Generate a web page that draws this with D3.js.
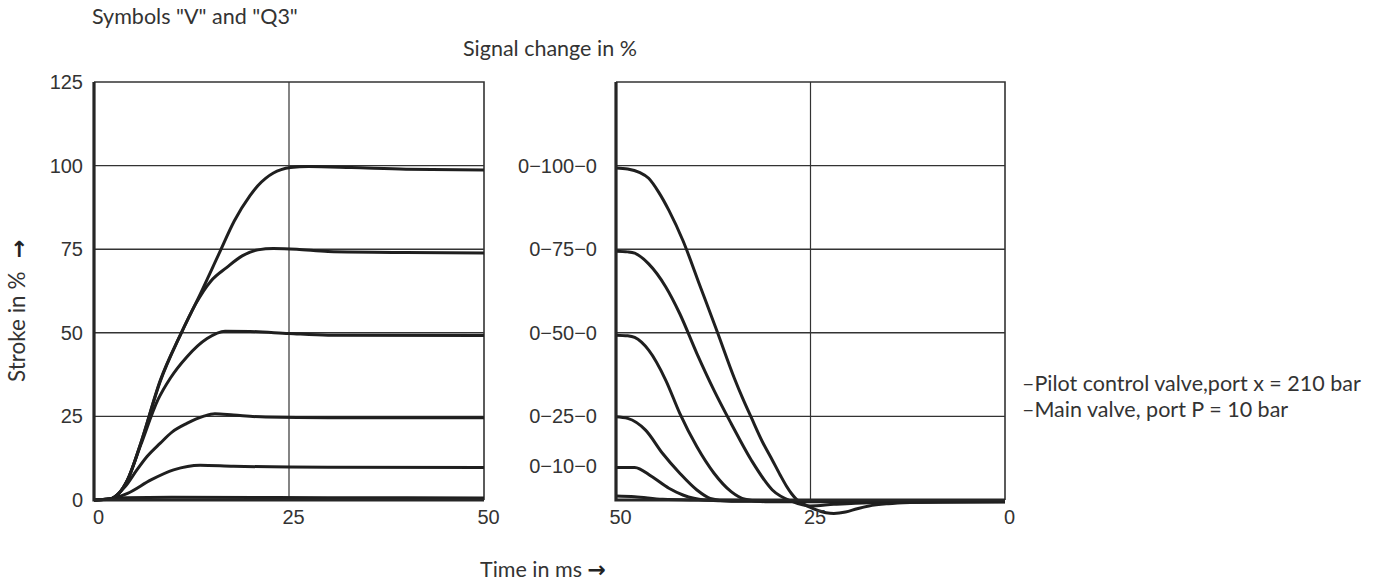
<!DOCTYPE html>
<html>
<head>
  <meta charset="utf-8">
  <title>Stroke vs time</title>
  <style>
    body { margin: 0; background: #fff; }
    .lbl { font-family: Lato, "Open Sans", sans-serif; font-size: 21.5px; fill: #333; }
    .arrow { font-family: "DejaVu Sans", sans-serif; font-weight: bold; fill: #222; }
    .tick text { font-family: "Liberation Sans", Arial, sans-serif; font-size: 20px; fill: #333; }
  </style>
</head>
<body>
  <svg id="chart"></svg>

  <script src="https://cdnjs.cloudflare.com/ajax/libs/d3/7.8.5/d3.min.js"></script>
  <script>
    // tick values / labels
    const strokeTicks = [0, 25, 50, 75, 100, 125];
    const gridValues = [25, 50, 75, 100];
    const timeTicks = [0, 25, 50];
    const signalTicks = [10, 25, 50, 75, 100];
    const signalLabels = ["0\u221210\u22120", "0\u221225\u22120", "0\u221250\u22120", "0\u221275\u22120", "0\u2212100\u22120"];

    // step up: [time ms, stroke %]
    const rise0 = [[0,0],[2,0.2],[4,0.7],[10,0.8],[30,0.7],[50,0.6]];
    const rise10 = [[0,0],[2,0.3],[4.3,2],[7.3,6],[10.2,9],[13.6,10.4],[17.9,10.1],[30,9.8],[50,9.75]];
    const rise25 = [[0,0],[2,0.3],[4,4],[5.5,9],[6.8,13],[8.5,17],[10,20.3],[11.9,22.9],[14,25],[15.5,25.8],[17.9,25.4],[22,24.8],[30,24.6],[50,24.6]];
    const rise50 = [[0,0],[2,0.3],[4.3,6],[6,16.5],[8.2,30],[9.8,36.5],[11.9,42.8],[14.5,48.3],[16.8,50.5],[20,50.4],[25,49.8],[30,49.3],[50,49.2]];
    const rise75 = [[0,0],[2,0.3],[4.3,6],[6,17],[8.5,35.5],[11,49],[13,58.5],[15,65.5],[17,69.5],[19,73],[21,74.8],[23,75.2],[26,75],[30,74.3],[40,74],[50,73.9]];
    const rise100 = [[0,0],[2,0.3],[4.3,6],[6,17],[8.5,35.8],[11.1,49.5],[13.65,61.7],[16,73.5],[18,83.5],[20,91],[21,94],[22,96.2],[23,97.8],[24,98.8],[25.2,99.4],[27.5,99.7],[33,99.4],[40,98.9],[50,98.7]];

    // step down: [time ms, stroke %], time axis runs 50 -> 0
    const fall0 = [[50,1.2],[47.6,1],[44,0.2],[40,0],[20,-0.3],[0,-0.3]];
    const fall10 = [[50,9.75],[47.6,9.75],[45.4,7],[43.2,3.5],[41.4,1.5],[38.7,0],[35,-0.3],[0,-0.3]];
    const fall25 = [[50,24.9],[48.5,24.4],[46.2,20.9],[44,13.9],[41.8,8],[39.6,3],[37.9,0.5],[35.2,-0.4],[0,-0.4]];
    const fall50 = [[50,49.3],[48.5,49.1],[47.6,48.6],[45.8,44.8],[43.6,35.8],[41.8,25.9],[39.6,15.9],[37.4,8],[35.2,2.5],[33.4,0.2],[30.8,-0.5],[0,-0.5]];
    const fall75 = [[50,74.4],[48.5,74.2],[47.6,73.8],[45.8,70.6],[43.6,63.7],[41.8,55.7],[39.6,43.8],[37.4,32.8],[35.2,22.9],[32.6,11.9],[29.9,3],[27.3,-0.5],[25,-1.8],[22,-1.3],[17.5,-0.8],[0,-0.5]];
    const fall100 = [[50,99.3],[48.5,99],[47,98],[45.8,96.2],[44.5,92],[43.2,86.6],[41.4,77.6],[39.2,64],[37,50.4],[34.8,36.5],[33.7,30.3],[32.6,24.6],[31.2,17.5],[29.9,11.9],[28.9,7.5],[28.1,4.2],[27.4,1.8],[26.8,0.2],[25.8,-1.3],[24.5,-2.7],[23,-3.8],[22,-4],[20.5,-3.6],[19,-2.6],[17.5,-1.8],[15,-1.1],[12,-0.7],[8,-0.5],[0,-0.5]];

    const riseSeries = [rise0, rise10, rise25, rise50, rise75, rise100];
    const fallSeries = [fall0, fall10, fall25, fall50, fall75, fall100];

    const width = 1376, height = 585;
    const svg = d3.select("#chart")
      .attr("width", width)
      .attr("height", height)
      .attr("viewBox", [0, 0, width, height]);

    /** shared vertical scale */
    const y = d3.scaleLinear().domain([0, 125]).range([500, 82]);
    const xL = d3.scaleLinear().domain([0, 50]).range([94, 484]);
    const xR = d3.scaleLinear().domain([50, 0]).range([616, 1005]);

    function panel(x, yAxis, series) {
      const g = svg.append("g");
      const [x0, x1] = x.range();

      // grid
      g.selectAll(".h").data(gridValues).join("line")
        .attr("x1", x0).attr("x2", x1)
        .attr("y1", d => y(d)).attr("y2", d => y(d))
        .attr("stroke", "#333").attr("stroke-width", 1.4);
      g.append("line")
        .attr("x1", x(25)).attr("x2", x(25))
        .attr("y1", y(125)).attr("y2", y(0))
        .attr("stroke", "#333").attr("stroke-width", 1.2);

      // frame: thin top/right, thick left/bottom
      g.append("path")
        .attr("d", `M${x0},${y(125)}H${x1}V${y(0)}`)
        .attr("fill", "none").attr("stroke", "#333").attr("stroke-width", 1.6);

      // curves
      const line = d3.line()
        .x(d => x(d[0]))
        .y(d => y(d[1]))
        .curve(d3.curveMonotoneX);
      g.selectAll(".curve").data(series).join("path")
        .attr("d", line)
        .attr("fill", "none")
        .attr("stroke", "#1f1f1f")
        .attr("stroke-width", 3)
        .attr("stroke-linejoin", "round");

      g.append("path")
        .attr("d", `M${x0},${y(125)}V${y(0)}H${x1}`)
        .attr("fill", "none").attr("stroke", "#262626").attr("stroke-width", 3.2);

      // axes
      g.append("g")
        .attr("transform", `translate(${x0},0)`)
        .call(yAxis)
        .call(a => a.select(".domain").remove());
      g.append("g")
        .attr("transform", `translate(0,${y(0)})`)
        .call(d3.axisBottom(x).tickValues(timeTicks).tickSize(0).tickPadding(10))
        .call(a => a.select(".domain").remove())
        .call(a => a.selectAll("text").attr("dx", 4));
    }

    panel(xL,
      d3.axisLeft(y).tickValues(strokeTicks).tickSize(0).tickPadding(11),
      riseSeries);
    panel(xR,
      d3.axisLeft(y).tickValues(signalTicks).tickSize(0).tickPadding(19)
        .tickFormat((d, i) => signalLabels[i]),
      fallSeries);

    // titles and labels
    svg.append("text").attr("class", "lbl")
      .attr("x", 92).attr("y", 24)
      .text('Symbols "V" and "Q3"');
    svg.append("text").attr("class", "lbl")
      .attr("x", 463).attr("y", 56)
      .text("Signal change in %");
    const tl = svg.append("text").attr("class", "lbl")
      .attr("x", 480).attr("y", 577);
    tl.append("tspan").text("Time in ms ");
    tl.append("tspan").attr("class", "arrow").attr("font-size", 22).text("\u2192");
    svg.append("text").attr("class", "lbl")
      .attr("transform", "translate(25,382) rotate(-90)")
      .style("font-size", "22.5px")
      .text("Stroke in %");
    svg.append("text").attr("class", "arrow")
      .attr("font-size", 22)
      .attr("transform", "translate(26,258) rotate(-90)")
      .text("\u2192");

    const notes = ["\u2013Pilot control valve,port x = 210 bar", "\u2013Main valve, port P = 10 bar"];
    svg.selectAll(".note").data(notes).join("text")
      .attr("class", "lbl")
      .attr("x", 1022)
      .attr("y", (d, i) => 391 + i * 26)
      .text(d => d);
  </script>
</body>
</html>
